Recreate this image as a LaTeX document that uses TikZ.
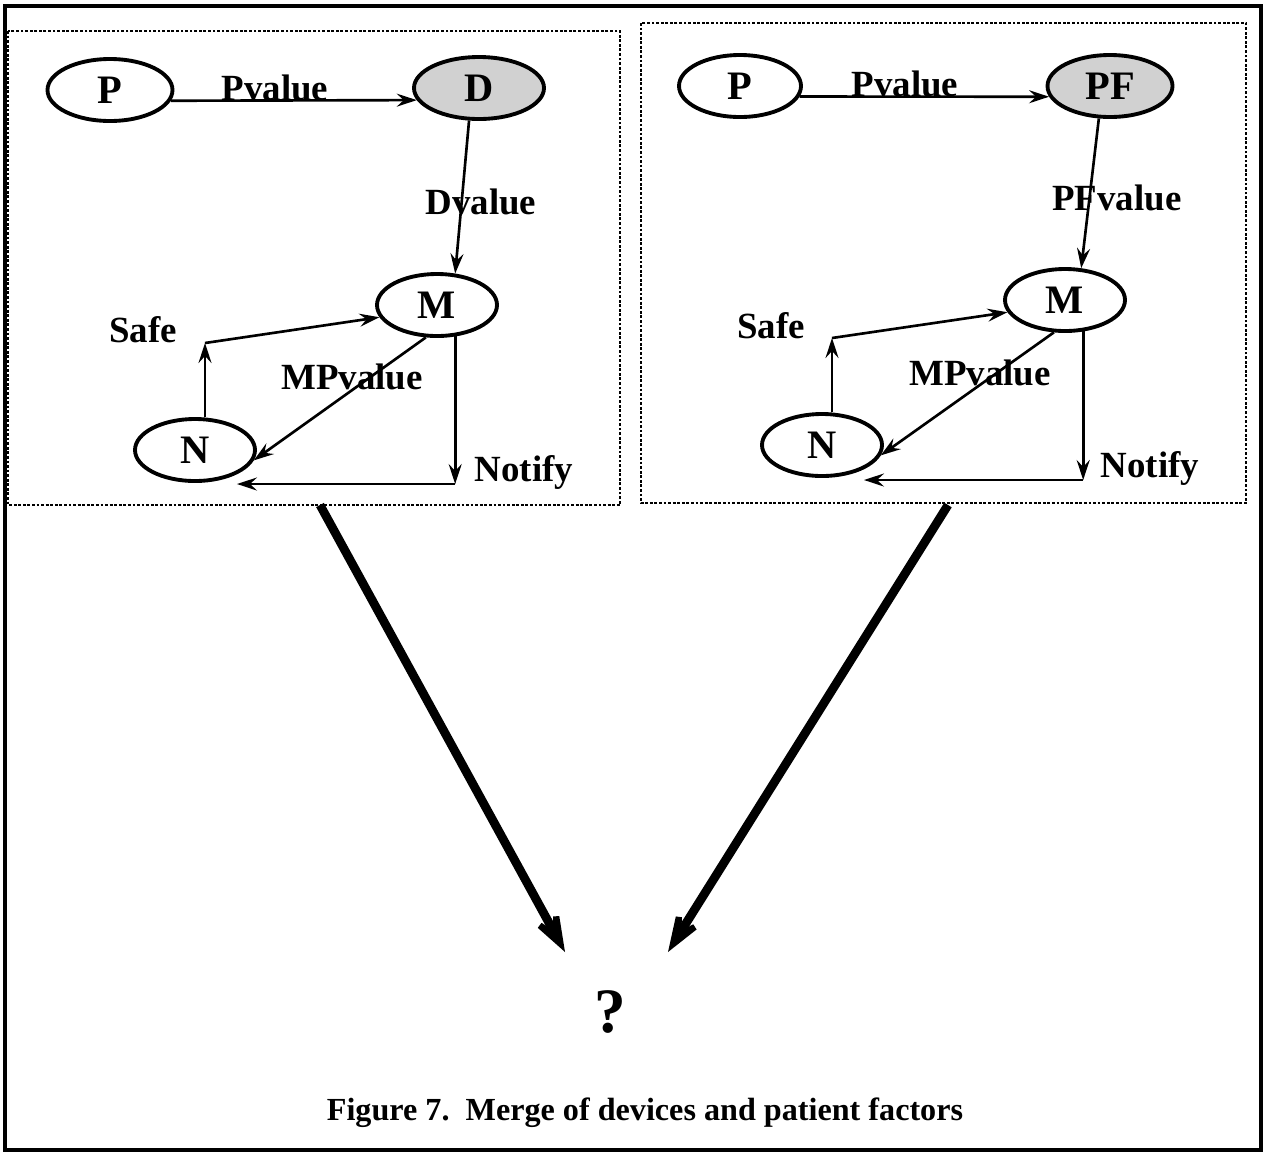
\documentclass[tikz,border=0pt]{standalone}
\usepackage{fontspec}
\setmainfont{Liberation Serif}
\usetikzlibrary{shapes.geometric,arrows.meta}
\tikzset{
  var/.style={shape=ellipse,draw,line width=2.2pt,inner sep=0pt,minimum width=24mm,minimum height=12.4mm,font=\fontsize{23}{23}\selectfont\bfseries},
  lab/.style={inner sep=0pt,font=\fontsize{21}{21}\selectfont\bfseries},
  flow/.style={->,line width=1.5pt,>={Stealth[length=4mm,width=2.6mm,inset=1.4mm]}},
  panel/.style={line width=1.6pt,densely dotted},
  merge/.style={-{Stealth[length=14mm,width=10mm,inset=9mm]},line width=5pt}
}

\begin{document}
\begin{tikzpicture}[x=0.2mm,y=-0.2mm]
\useasboundingbox (0,0) rectangle (1268,1154);
\draw [line width=2pt] (5,6) rectangle (1261,1150);
\draw [panel] (8,31) rectangle (620,505);
\draw [panel] (641,23) rectangle (1246,503);

% devices
\path node (p1) at (110,90) [var,minimum width=25mm] {P}
      node (d) at (479,88) [var,fill=black!18,minimum width=26mm] {D}
      node (m1) at (437,305) [var] {M}
      node (n1) at (195,450) [var] {N};
\coordinate (s1) at (205,343);
\coordinate (nt1) at (m1.300 |- 0,484);
\draw [flow] (p1.350) to (d.191);
\draw [flow] (d.253) to (m1.60);
\draw [flow] (m1.251) to (n1.350);
\draw [flow] (s1 |- n1.north) to (s1);
\draw [flow] (s1) to (m1.192);
\draw [flow] (m1.300) to (nt1);
\draw [flow] (nt1) to (n1.330 |- nt1);
\path node at (275,88) [lab] {Pvalue}
      node at (481,202) [lab] {Dvalue}
      node at (143,330) [lab] {Safe}
      node at (352,377) [lab] {MPvalue}
      node at (524,472) [lab] {Notify};

% patient factors
\path node (p2) at (740,86) [var,minimum width=24.4mm] {P}
      node (pf) at (1110,86) [var,fill=black!18,minimum width=25mm] {PF}
      node (m2) at (1065,300) [var] {M}
      node (n2) at (822,445) [var] {N};
\coordinate (s2) at (832,338);
\coordinate (nt2) at (m2.300 |- 0,480);
\draw [flow] (p2.350) to (pf.190);
\draw [flow] (pf.251) to (m2.63);
\draw [flow] (m2.251) to (n2.350);
\draw [flow] (s2 |- n2.north) to (s2);
\draw [flow] (s2) to (m2.192);
\draw [flow] (m2.300) to (nt2);
\draw [flow] (nt2) to (n2.330 |- nt2);
\path node at (905,84) [lab] {Pvalue}
      node at (1117,198) [lab] {PFvalue}
      node at (771,326) [lab] {Safe}
      node at (980,373) [lab] {MPvalue}
      node at (1150,468) [lab] {Notify};

% merge
\coordinate (f1) at (320,505);
\coordinate (t1) at (565,952);
\coordinate (f2) at (948,505);
\coordinate (t2) at (668,952);
\draw [merge] (f1) to (t1);
\draw [merge] (f2) to (t2);
\node (q) at (610,1012) [inner sep=0pt,font=\fontsize{36}{36}\selectfont\bfseries] {?};
\node (cap) at (645,1113) [inner sep=0pt,font=\fontsize{18.3}{18.3}\selectfont\bfseries] {Figure 7.\ \ Merge of devices and patient factors};
\end{tikzpicture}
\end{document}
